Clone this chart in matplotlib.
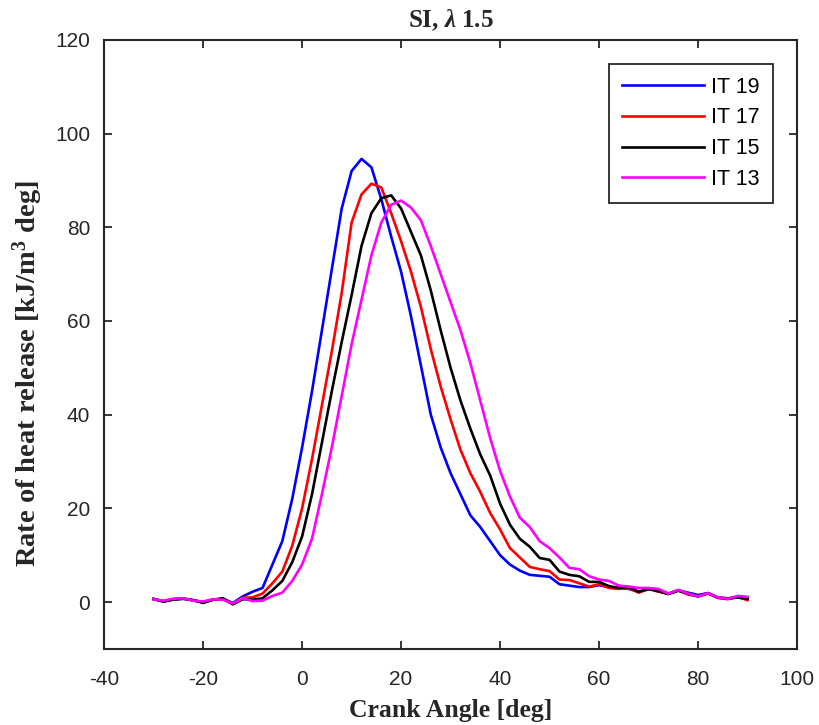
import matplotlib
matplotlib.use("Agg")
import matplotlib.pyplot as plt

plt.rcParams['mathtext.fontset'] = 'custom'
plt.rcParams['mathtext.rm'] = 'Liberation Serif:bold'
plt.rcParams['mathtext.it'] = 'Liberation Serif:bold:italic'
plt.rcParams['mathtext.bf'] = 'Liberation Serif:bold'
plt.rcParams['axes.unicode_minus'] = False

crank_angle = list(range(-30, 91, 2))

it19 = [0.6, 0.1, 0.6, 0.7, 0.4, 0.0, 0.5, 0.7, -0.2, 1.2,
        2.2, 3.0, 8.0, 13.0, 22.0, 33.0, 45.0, 58.0, 71.0, 84.0,
        92.0, 94.6, 92.8, 86.0, 78.0, 70.5, 61.0, 50.5, 40.0, 33.0,
        27.5, 23.0, 18.5, 16.0, 13.0, 10.0, 8.0, 6.7, 5.8, 5.6,
        5.4, 3.8, 3.5, 3.2, 3.2, 3.6, 3.2, 3.0, 2.8, 2.2,
        2.7, 2.6, 1.8, 2.5, 2.0, 1.5, 1.9, 0.9, 0.7, 1.0, 0.6]

it17 = [0.6, 0.2, 0.6, 0.8, 0.3, 0.0, 0.5, 0.6, -0.3, 0.9,
        1.0, 1.8, 4.0, 6.5, 12.0, 20.0, 30.5, 42.0, 53.5, 66.0,
        81.0, 87.0, 89.3, 88.5, 83.0, 77.0, 70.5, 63.0, 54.0, 46.0,
        39.0, 32.5, 27.5, 23.5, 19.0, 15.5, 11.5, 9.5, 7.5, 7.0,
        6.6, 4.8, 4.7, 4.0, 3.3, 3.8, 3.0, 2.8, 3.0, 2.0,
        2.8, 2.2, 1.8, 2.5, 1.6, 1.2, 1.8, 0.9, 0.6, 1.1, 0.4]

it15 = [0.7, 0.1, 0.5, 0.7, 0.4, -0.2, 0.5, 0.8, -0.5, 0.6,
        0.5, 0.8, 2.5, 4.5, 8.5, 14.0, 23.0, 34.0, 45.0, 55.5,
        65.5, 76.0, 83.0, 86.2, 86.8, 84.0, 79.0, 74.0, 66.5, 58.0,
        50.0, 43.0, 37.0, 31.5, 27.0, 21.0, 16.5, 13.5, 11.8, 9.4,
        9.0, 6.5, 5.8, 5.5, 4.3, 4.3, 3.4, 3.0, 3.2, 2.2,
        2.8, 2.3, 1.7, 2.4, 1.8, 1.2, 1.9, 1.0, 0.8, 1.0, 0.7]

it13 = [0.6, 0.3, 0.7, 0.8, 0.3, 0.1, 0.6, 0.5, -0.3, 0.8,
        0.2, 0.3, 1.3, 2.0, 4.5, 8.0, 13.5, 23.0, 33.0, 44.0,
        55.0, 64.5, 74.0, 81.0, 84.8, 85.7, 84.2, 81.5, 76.0, 70.0,
        64.0, 58.0, 51.0, 43.0, 35.0, 28.0, 22.5, 18.0, 16.0, 13.0,
        11.5, 9.5, 7.3, 7.0, 5.5, 4.8, 4.5, 3.5, 3.3, 3.0,
        3.0, 2.8, 1.8, 2.6, 1.8, 1.2, 1.9, 1.0, 0.7, 1.3, 1.1]

labels = ['IT 19', 'IT 17', 'IT 15', 'IT 13']
colors = ['#0000ff', '#ff0000', '#000000', '#ff00ff']
series = [it19, it17, it15, it13]

fig = plt.figure(figsize=(8.2, 7.25), dpi=100)
ax = fig.add_axes([0.127, 0.105, 0.845, 0.84])

for y, c, lab in zip(series, colors, labels):
    ax.plot(crank_angle, y, color=c, lw=1.9, label=lab)

ax.set_xlim(-40, 100)
ax.set_ylim(-10, 120)
ax.set_xticks(range(-40, 101, 20))
ax.set_yticks(range(0, 121, 20))

ax.tick_params(direction='in', length=6, width=1.3, top=True, right=True,
               labelsize=15, colors='#262626')
ax.tick_params(axis='x', pad=15)
ax.tick_params(axis='y', pad=10)
for lab in ax.get_xticklabels() + ax.get_yticklabels():
    lab.set_family('Liberation Sans')
for s in ax.spines.values():
    s.set_linewidth(1.5)
    s.set_color('#262626')

ax.set_xlabel('Crank Angle [deg]', family='Liberation Serif', weight='bold',
              fontsize=18.5, color='#262626', labelpad=7.5)
ax.set_ylabel(r'Rate of heat release [kJ/m$^{3}$ deg]', family='Liberation Serif',
              weight='bold', fontsize=20.5, color='#262626')
ax.yaxis.set_label_coords(-0.085, 0.4516)
ax.set_title(r'SI, $\lambda$ 1.5', family='Liberation Serif', weight='bold',
             fontsize=18, color='#262626', pad=9)

leg = ax.legend(loc='upper right', bbox_to_anchor=(0.965, 0.9606),
                prop={'family': 'Liberation Sans', 'size': 15.5},
                handlelength=3.8, handletextpad=0.35, labelspacing=0.45,
                borderpad=0.6, borderaxespad=0, fancybox=False, framealpha=1,
                edgecolor='#262626')
leg.get_frame().set_linewidth(1.3)

fig.savefig('out.png', dpi=100, facecolor='white')
